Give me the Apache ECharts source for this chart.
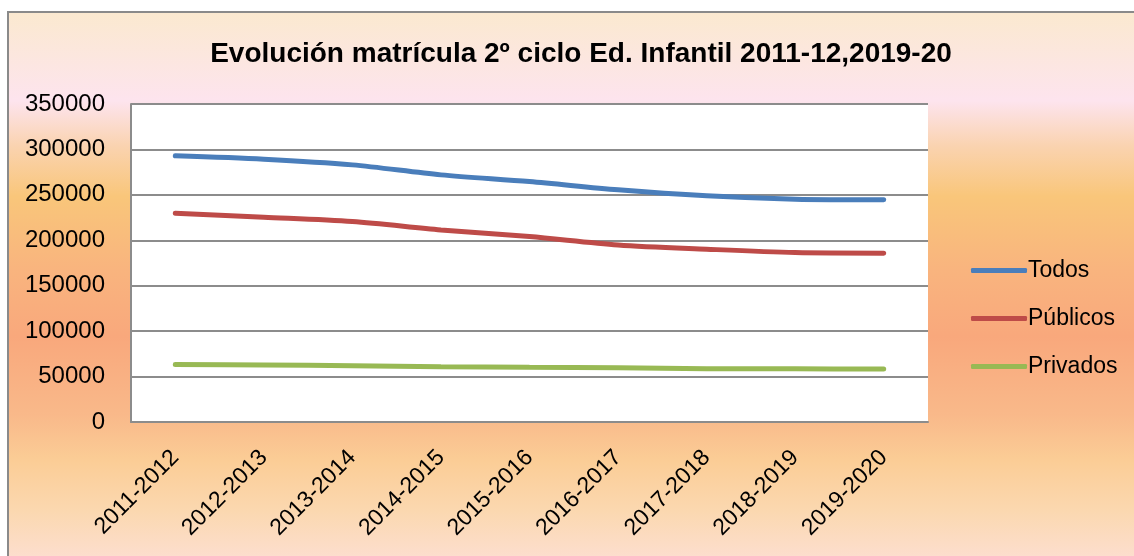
<!DOCTYPE html>
<html>
<head>
<meta charset="utf-8">
<script src="https://cdn.jsdelivr.net/npm/echarts@6/dist/echarts.min.js"></script>
<style>
  html, body { margin: 0; padding: 0; background: #fff; }
  #main { width: 1134px; height: 556px; }
</style>
</head>
<body>
<div id="main"></div>
<script>
// cursos escolares
const cursos = ["2011-2012", "2012-2013", "2013-2014", "2014-2015", "2015-2016",
  "2016-2017", "2017-2018", "2018-2019", "2019-2020"];

// matricula
const todos = [293000, 289300, 283000, 272000, 264600, 255500, 248900, 245200, 244500];
const publicos = [229800, 225400, 220600, 211400, 204100, 194900, 190200, 186500, 185800];
const privados = [63200, 62800, 62000, 60800, 60200, 59800, 58700, 58500, 58200];

const titulo = "Evolución matrícula 2º ciclo Ed. Infantil 2011-12,2019-20";
const FONT = "Liberation Sans";

var dom = document.getElementById("main");
var myChart = echarts.init(dom, null, { renderer: "canvas" });

var option = {
  animation: false,
  graphic: [
    {
      type: "rect",
      z: -10,
      silent: true,
      shape: { x: 8, y: 12, width: 1140, height: 560 },
      style: {
        stroke: "#8a8a8a",
        lineWidth: 2,
        fill: new echarts.graphic.LinearGradient(0, 0, 0, 1, [
          { offset: 0, color: "#fbe9cf" },
          { offset: 0.16, color: "#fde4ee" },
          { offset: 0.24, color: "#fad3b0" },
          { offset: 0.33, color: "#f9c67a" },
          { offset: 0.46, color: "#f9b47e" },
          { offset: 0.58, color: "#f9a87c" },
          { offset: 0.72, color: "#f9b98a" },
          { offset: 0.8, color: "#fbcd96" },
          { offset: 0.89, color: "#fbd8b0" },
          { offset: 1, color: "#fde0d8" }
        ])
      }
    }
  ],
  title: {
    text: titulo,
    left: 576,
    textAlign: "center",
    top: 35,
    textStyle: { fontFamily: FONT, fontSize: 28, fontWeight: "bold", color: "#000" }
  },
  legend: {
    orient: "vertical",
    left: 966,
    top: 254,
    itemWidth: 56,
    itemHeight: 5,
    itemGap: 25,
    icon: "roundRect",
    textStyle: { fontFamily: FONT, fontSize: 23, color: "#000", padding: [0, 0, 0, -4] },
    data: ["Todos", "Públicos", "Privados"]
  },
  grid: {
    left: 131,
    right: 206,
    top: 104,
    bottom: 134,
    show: true,
    backgroundColor: "#fff",
    borderWidth: 0
  },
  xAxis: {
    type: "category",
    data: cursos,
    boundaryGap: true,
    axisLine: { lineStyle: { color: "#8c8c8c", width: 2 } },
    axisTick: { show: false },
    axisLabel: {
      rotate: 45,
      margin: 32,
      interval: 0,
      fontFamily: FONT,
      fontSize: 23,
      color: "#000"
    }
  },
  yAxis: {
    type: "value",
    min: 0,
    max: 350000,
    interval: 50000,
    axisLine: { show: true, lineStyle: { color: "#8c8c8c", width: 2 } },
    axisTick: { show: false },
    splitLine: { lineStyle: { color: "#8c8c8c", width: 2 } },
    axisLabel: {
      margin: 26,
      fontFamily: FONT,
      fontSize: 24,
      color: "#000",
      formatter: function (v) { return String(v); }
    }
  },
  series: [
    {
      name: "Todos",
      type: "line",
      data: todos,
      smooth: 0.3,
      symbol: "none",
      color: "#4a7ebb",
      lineStyle: { width: 5, cap: "round" }
    },
    {
      name: "Públicos",
      type: "line",
      data: publicos,
      smooth: 0.3,
      symbol: "none",
      color: "#be4b48",
      lineStyle: { width: 5, cap: "round" }
    },
    {
      name: "Privados",
      type: "line",
      data: privados,
      smooth: 0.3,
      symbol: "none",
      color: "#98b954",
      lineStyle: { width: 5, cap: "round" }
    }
  ]
};

myChart.setOption(option);
window.addEventListener("resize", myChart.resize);
</script>
</body>
</html>
